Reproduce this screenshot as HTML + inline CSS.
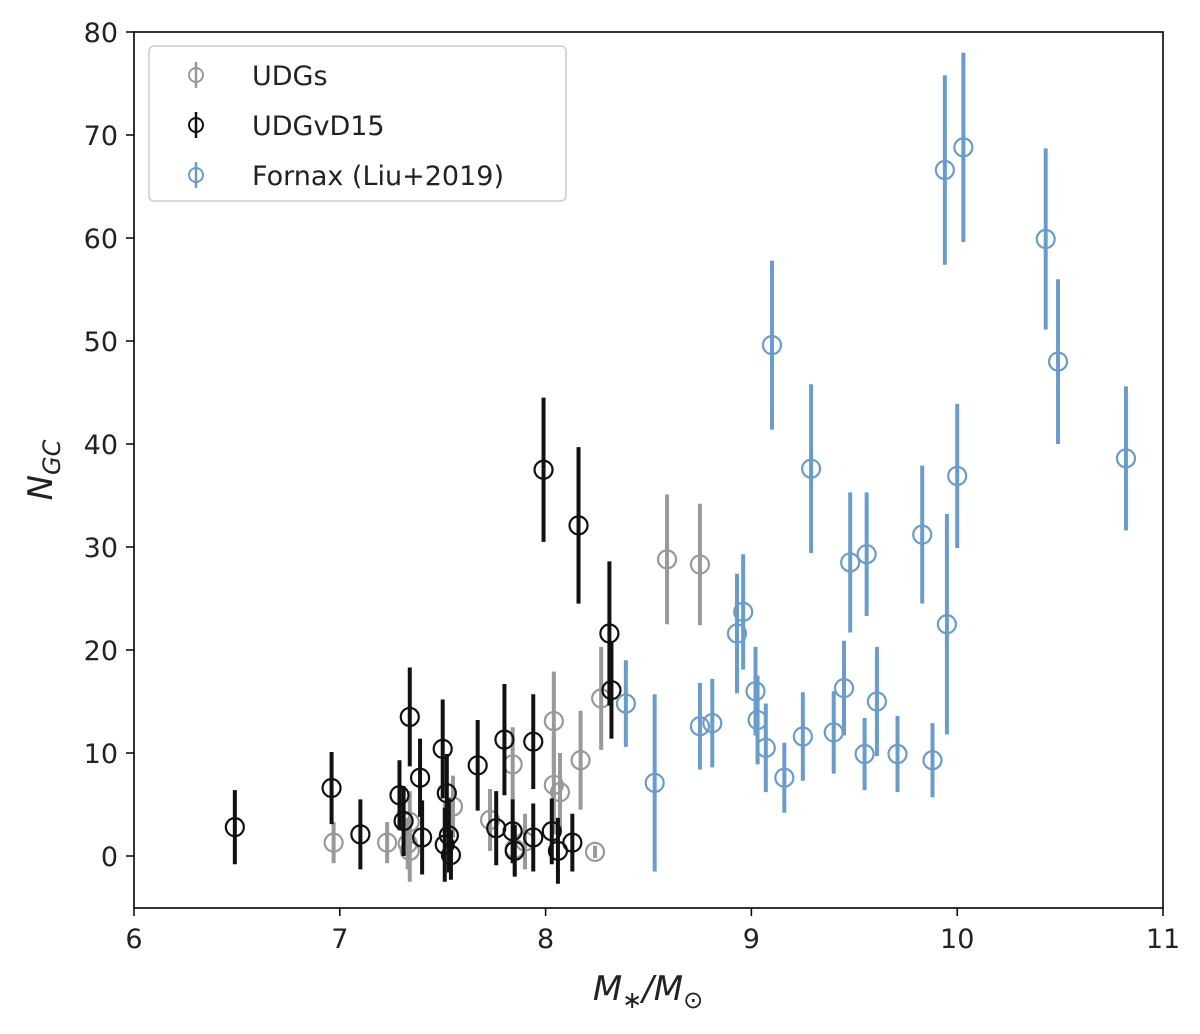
<!DOCTYPE html>
<html><head><meta charset="utf-8"><style>
body{margin:0;background:#fff;}
svg text{font-family:"DejaVu Sans","Liberation Sans",sans-serif;fill:#222;}
</style></head><body>
<svg id="chart" width="1200" height="1029" viewBox="0 0 1200 1029" xmlns="http://www.w3.org/2000/svg">
<g id="marks"></g>
<rect x="134" y="32" width="1029" height="876" fill="none" stroke="#000" stroke-width="1.6"/>
<g id="axes"></g>
<text x="648" y="1000" font-size="34" text-anchor="middle" font-style="italic">M<tspan font-size="24" dy="8">∗</tspan><tspan dy="-8">/M</tspan><tspan font-size="24" dy="8" font-style="normal">⊙</tspan></text>
<text transform="translate(52,470) rotate(-90)" font-size="34" text-anchor="middle" font-style="italic">N<tspan font-size="24" dy="8">GC</tspan></text>
<g>
<rect x="149" y="46" width="417" height="155" rx="5" fill="#fff" stroke="#ccc" stroke-width="1.5"/>
<g id="legend-items"></g>
</g>
</svg>
<script>
const udgX=[6.97,7.23,7.33,7.34,7.34,7.55,7.73,7.84,7.85,7.90,8.04,8.04,8.07,8.17,8.24,8.27,8.59,8.75];
const udgY=[1.3,1.3,1.2,0.5,3.3,4.8,3.5,8.9,0.7,1.4,13.1,6.9,6.2,9.3,0.4,15.3,28.8,28.3];
const udgE=[2,2,2.5,3,3,3,3,3.6,2.5,2.7,4.8,4.8,3.8,4.8,0.6,5,6.3,5.9];
const vdX=[6.49,6.96,7.10,7.29,7.34,7.31,7.39,7.40,7.50,7.52,7.51,7.53,7.54,7.67,7.76,7.80,7.84,7.85,7.94,7.94,7.99,8.03,8.06,8.13,8.16,8.31,8.32];
const vdY=[2.8,6.6,2.1,5.9,13.5,3.4,7.6,1.8,10.4,6.1,1.1,2.0,0.1,8.8,2.7,11.3,2.4,0.5,1.8,11.1,37.5,2.4,0.5,1.3,32.1,21.6,16.1];
const vdE=[3.6,3.5,3.4,3.4,4.8,3.4,3.8,3.6,4.8,3.8,3.6,3.6,2.4,4.4,3.6,5.4,3.1,2.5,3.3,4.6,7,3.2,3.2,2.8,7.6,7,4.7];
const fxX=[8.39,8.53,8.75,8.81,8.93,8.96,9.02,9.03,9.07,9.10,9.16,9.25,9.29,9.40,9.45,9.48,9.55,9.56,9.61,9.71,9.83,9.88,9.94,9.95,10.0,10.03,10.43,10.49,10.82];
const fxY=[14.8,7.1,12.6,12.9,21.6,23.7,16.0,13.2,10.5,49.6,7.6,11.6,37.6,12,16.3,28.5,9.9,29.3,15,9.9,31.2,9.3,66.6,22.5,36.9,68.8,59.9,48,38.6];
const fxE=[4.2,8.6,4.2,4.3,5.8,5.6,4.3,4.3,4.3,8.2,3.4,4.3,8.2,4,4.6,6.8,3.5,6,5.3,3.7,6.7,3.6,9.2,10.7,7,9.2,8.8,8,7];
const xTicks=[6,7,8,9,10,11];
const yTicks=[0,10,20,30,40,50,60,70,80];
const legendLabels=["UDGs","UDGvD15","Fornax (Liu+2019)"];
const NS="http://www.w3.org/2000/svg";
const X=v=>134+(v-6)*205.8, Y=v=>856-v*10.3;
function mk(t,a,p){const e=document.createElementNS(NS,t);for(const k in a)e.setAttribute(k,a[k]);p.appendChild(e);return e;}
const marks=document.getElementById('marks');
const series=[[udgX,udgY,udgE,'#999999','udg'],[vdX,vdY,vdE,'#111111','udgvd15'],[fxX,fxY,fxE,'#6a9ccb','fornax']];
series.forEach(([xs,ys,es,c,n])=>{
  const g=mk('g',{},marks);
  
  
  xs.forEach((x,i)=>{
    const l=mk('line',{x1:X(x),x2:X(x),y1:Y(ys[i]-es[i]),y2:Y(ys[i]+es[i]),stroke:c,'stroke-width':4},g);
    
    
    const p=mk('circle',{cx:X(x),cy:Y(ys[i]),r:9,fill:'none',stroke:c,'stroke-width':2.2},g);
    
    
  });
});
const axes=document.getElementById('axes');
xTicks.forEach(t=>{
  const l=mk('line',{x1:X(t),x2:X(t),y1:908,y2:916,stroke:'#000','stroke-width':1.5},axes);
  
  
  const s=mk('text',{x:X(t),y:948,'font-size':27,'text-anchor':'middle'},axes);s.textContent=t;
  
  
});
yTicks.forEach(t=>{
  const l=mk('line',{x1:126,x2:134,y1:Y(t),y2:Y(t),stroke:'#000','stroke-width':1.5},axes);
  
  
  const s=mk('text',{x:118,y:Y(t)+10,'font-size':27,'text-anchor':'end'},axes);s.textContent=t;
  
  
});
const li=document.getElementById('legend-items');
legendLabels.forEach((lab,i)=>{
  const c=series[i][3], y=75+i*50;
  const g=mk('g',{},li);
  
  
  mk('line',{x1:196,x2:196,y1:y-13,y2:y+13,stroke:c,'stroke-width':2.5},g);
  mk('circle',{cx:196,cy:y,r:7,fill:'none',stroke:c,'stroke-width':2},g);
  const t=mk('text',{x:252,y:y+10,'font-size':27},g);t.textContent=lab;
});
</script>
</body></html>
